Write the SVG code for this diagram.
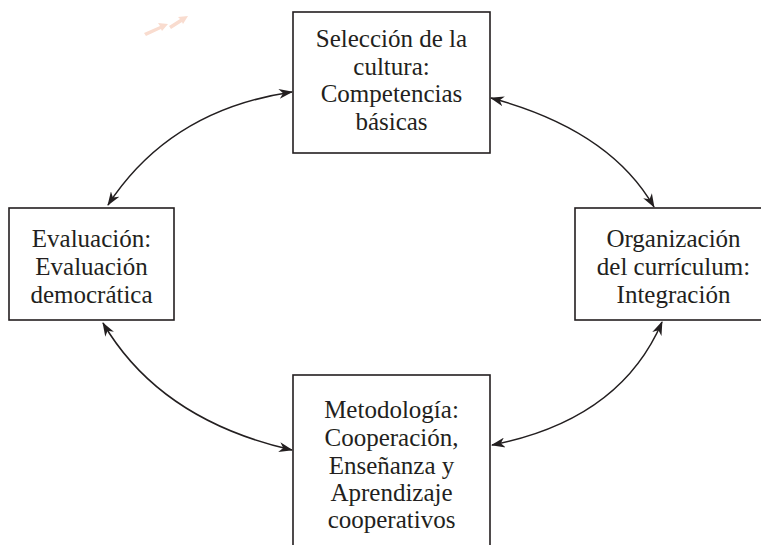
<svg xmlns="http://www.w3.org/2000/svg" width="761" height="545" viewBox="0 0 761 545">
<style>
.box{fill:#fff;stroke:#231f20;stroke-width:1.6}
.t{font-family:"Liberation Serif","DejaVu Serif",serif;font-size:25px;fill:#231f20;text-anchor:middle}
.c{fill:none;stroke:#231f20;stroke-width:1.5;marker-start:url(#ah);marker-end:url(#ah)}
</style>
<defs>
<marker id="ah" viewBox="0 0 14 10" refX="13" refY="5" markerWidth="14" markerHeight="10" markerUnits="userSpaceOnUse" orient="auto-start-reverse">
<path d="M0,0 L14,5 L0,10 L4,5 Z" fill="#231f20"/>
</marker>
</defs>
<g id="deco" fill="#f9dccf">
<polygon points="144,33 160,26 158,23 168,24 162,31 161,29 146,36"/>
<polygon points="169,26 180,19 178,17 188,16 183,24 182,22 171,29"/>
</g>
<g id="connectors">
<path class="c" d="M108,205 Q170,110 292,92"/>
<path class="c" d="M491,98 Q610,130 654,207"/>
<path class="c" d="M103,323 Q160,420 292,450"/>
<path class="c" d="M662,322 Q620,420 492,445"/>
</g>
<g id="top">
<rect class="box" x="293" y="12" width="197" height="141"/>
<text class="t" x="391.5" y="47">Selección de la</text>
<text class="t" x="391.5" y="74.5">cultura:</text>
<text class="t" x="391.5" y="102">Competencias</text>
<text class="t" x="391.5" y="129.5">básicas</text>
</g>
<g id="left">
<rect class="box" x="9" y="208" width="165" height="112"/>
<text class="t" x="91.5" y="247">Evaluación:</text>
<text class="t" x="91.5" y="275">Evaluación</text>
<text class="t" x="91.5" y="303">democrática</text>
</g>
<g id="right">
<rect class="box" x="575" y="208" width="200" height="112"/>
<text class="t" x="673.5" y="247">Organización</text>
<text class="t" x="673.5" y="275">del currículum:</text>
<text class="t" x="673.5" y="303">Integración</text>
</g>
<g id="bottom">
<rect class="box" x="293" y="375" width="197" height="190"/>
<text class="t" x="391.5" y="418">Metodología:</text>
<text class="t" x="391.5" y="446">Cooperación,</text>
<text class="t" x="391.5" y="474">Enseñanza y</text>
<text class="t" x="391.5" y="501">Aprendizaje</text>
<text class="t" x="391.5" y="528">cooperativos</text>
</g>
</svg>
